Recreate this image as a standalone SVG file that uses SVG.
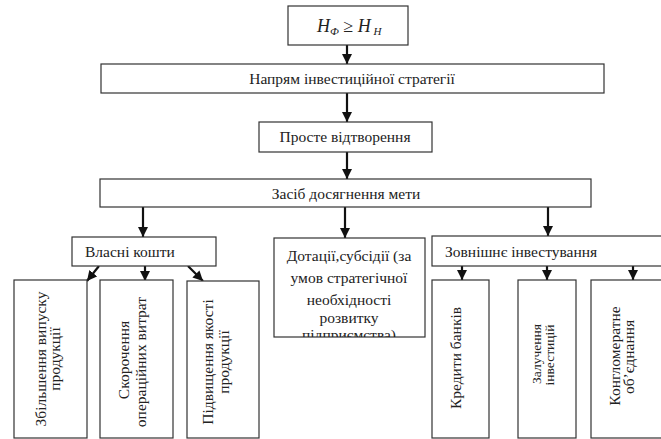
<svg xmlns="http://www.w3.org/2000/svg" width="661" height="439" viewBox="0 0 661 439">
<style>
.box{fill:#fff;stroke:#333;stroke-width:1.2}
.t{font-family:'Liberation Serif','DejaVu Serif',serif;font-size:15.5px;fill:#222}
.c{text-anchor:middle}
.ar{stroke:#111;stroke-width:2.2;fill:none;marker-end:url(#ah)}
</style>
<defs>
<marker id="ah" viewBox="0 0 10 10" refX="10" refY="5" markerWidth="10" markerHeight="10" markerUnits="userSpaceOnUse" orient="auto">
<path d="M0,0 L10,5 L0,10 z" fill="#111"/>
</marker>
<clipPath id="clipD"><rect x="274" y="238" width="151" height="99"/></clipPath>
</defs>
<rect width="661" height="439" fill="#fff"/>

<g id="connectors">
<line class="ar" x1="347" y1="45" x2="347" y2="64"/>
<line class="ar" x1="347" y1="93" x2="347" y2="122"/>
<line class="ar" x1="347" y1="152" x2="347" y2="179"/>
<line class="ar" x1="143" y1="207" x2="143" y2="237"/>
<line class="ar" x1="345" y1="207" x2="345" y2="238"/>
<line class="ar" x1="548" y1="207" x2="548" y2="236"/>
<line class="ar" x1="99" y1="266" x2="87" y2="281"/>
<line class="ar" x1="145" y1="266" x2="145" y2="281"/>
<line class="ar" x1="188" y1="266" x2="203" y2="281"/>
<line class="ar" x1="462" y1="266" x2="462" y2="280"/>
<line class="ar" x1="547" y1="266" x2="547" y2="280"/>
<line class="ar" x1="633" y1="266" x2="633" y2="280"/>
</g>

<g id="formula">
<rect class="box" x="288" y="6" width="120" height="39"/>
<text class="t" y="32" style="font-size:18px"><tspan x="317" font-style="italic">H</tspan><tspan style="font-size:11px" dy="3" font-style="italic">Ф</tspan><tspan dy="-3"> ≥ </tspan><tspan font-style="italic">H</tspan><tspan style="font-size:11px" dy="3" font-style="italic"> Н</tspan></text>
</g>

<g id="napriam">
<rect class="box" x="101" y="64" width="503" height="29"/>
<text class="c" font-family="Liberation Serif, serif" font-size="15.5" fill="#222" x="352" y="84">Напрям інвестиційної стратегії</text>
</g>

<g id="proste">
<rect class="box" x="259" y="122" width="173" height="30"/>
<text class="t c" x="345" y="142">Просте відтворення</text>
</g>

<g id="zasib">
<rect class="box" x="100" y="179" width="491" height="28"/>
<text class="t c" x="346" y="199">Засіб досягнення мети</text>
</g>

<g id="vlasni">
<rect class="box" x="72" y="237" width="144" height="29"/>
<text class="t" x="85" y="257">Власні кошти</text>
</g>

<g id="dotatsii">
<rect class="box" x="274" y="238" width="151" height="99"/>
<g clip-path="url(#clipD)">
<text class="t c" x="349" y="261">Дотації,субсідії (за</text>
<text class="t c" x="349" y="283">умов стратегічної</text>
<text class="t c" x="349" y="305">необхідності</text>
<text class="t c" x="349" y="323">розвитку</text>
<text class="t c" x="349" y="340">підприємства)</text>
</g>
</g>

<g id="zovnishnie">
<rect class="box" x="432" y="236" width="240" height="30"/>
<text class="t" x="445" y="257">Зовнішнє інвестування</text>
</g>

<g id="zbilshennia">
<rect class="box" x="14" y="280" width="73" height="158"/>
<text class="t c" transform="translate(46,359) rotate(-90)">Збільшення випуску</text>
<text class="t c" transform="translate(60,359) rotate(-90)">продукції</text>
</g>

<g id="skorochennia">
<rect class="box" x="100" y="280" width="73" height="158"/>
<text class="t c" transform="translate(129,360) rotate(-90)">Скорочення</text>
<text class="t c" transform="translate(146,362) rotate(-90)">операційних витрат</text>
</g>

<g id="pidvyshchennia">
<rect class="box" x="187" y="281" width="72" height="157"/>
<text class="t c" transform="translate(213,362) rotate(-90)">Підвищення якості</text>
<text class="t c" transform="translate(229,362) rotate(-90)">продукції</text>
</g>

<g id="kredyty">
<rect class="box" x="432" y="280" width="57" height="158"/>
<text class="t c" transform="translate(461,358) rotate(-90)">Кредити банків</text>
</g>

<g id="zaluchennia">
<rect class="box" x="518" y="280" width="58" height="158"/>
<text class="t c" style="font-size:13.5px" transform="translate(541,354) rotate(-90)">Залучення</text>
<text class="t c" style="font-size:13.5px" transform="translate(554,355) rotate(-90)">інвестицій</text>
</g>

<g id="konglomerat">
<rect class="box" x="591" y="280" width="80" height="158"/>
<text class="t c" transform="translate(620,356) rotate(-90)">Конгломератне</text>
<text class="t c" transform="translate(634,357) rotate(-90)">об’єднання</text>
</g>
</svg>
